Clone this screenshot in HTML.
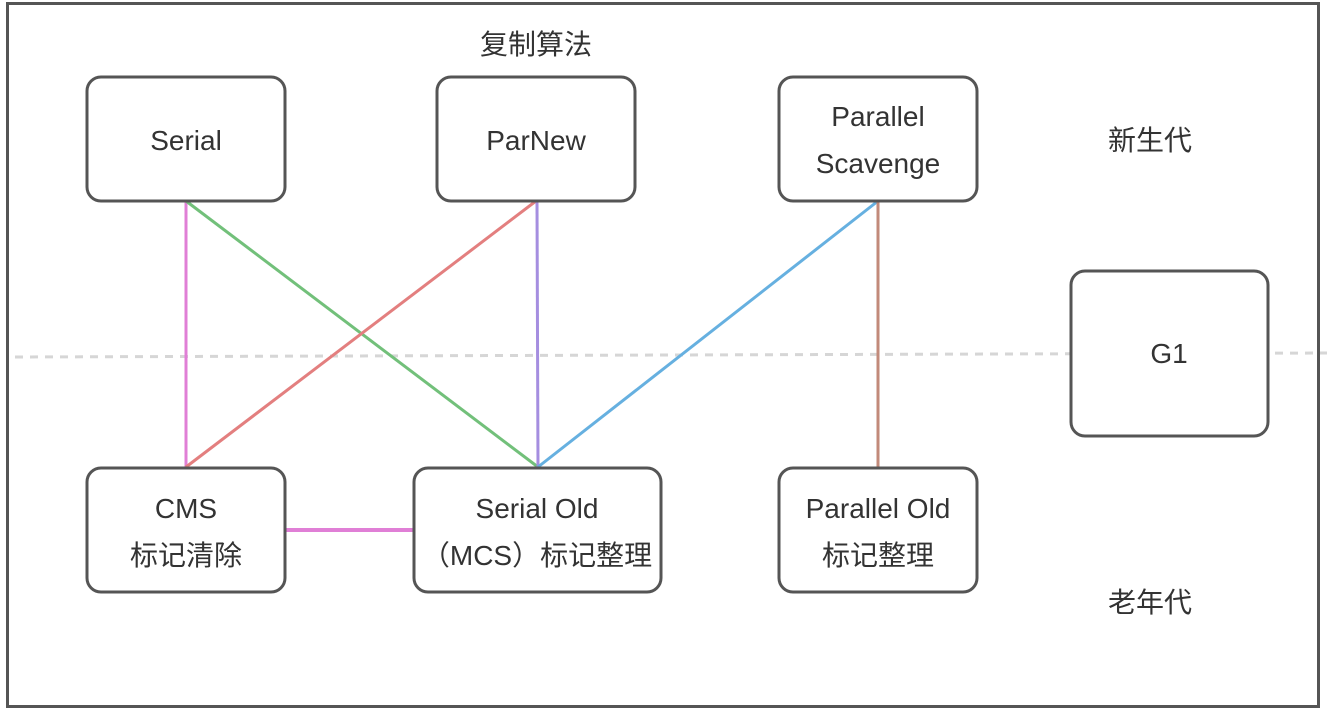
<!DOCTYPE html>
<html><head><meta charset="utf-8"><style>
html,body{margin:0;padding:0;background:#fff;width:1327px;height:710px;overflow:hidden}
svg text{font-family:"Liberation Sans","Noto Sans CJK SC",sans-serif;font-size:28px;fill:#333;text-anchor:middle}
</style></head><body>
<svg width="1327" height="710" xmlns="http://www.w3.org/2000/svg">
<rect x="7.5" y="3.5" width="1311" height="703" fill="none" stroke="#555" stroke-width="3"/>
<line x1="15" y1="357" x2="1327" y2="353" stroke="#d6d6d6" stroke-width="3" stroke-dasharray="8,7"/>
<g stroke-width="3" fill="none">
<line x1="186" y1="201" x2="186" y2="467" stroke="#e07fd6"/>
<line x1="186" y1="201" x2="538" y2="467" stroke="#72c07a"/>
<line x1="536" y1="201" x2="186" y2="467" stroke="#e37f7f"/>
<line x1="537" y1="201" x2="538" y2="467" stroke="#a58ee0"/>
<line x1="878" y1="201" x2="538" y2="467" stroke="#66b0e0"/>
<line x1="878" y1="201" x2="878" y2="467" stroke="#c28a7a"/>
<line x1="285" y1="530" x2="413" y2="530" stroke="#e07fd6" stroke-width="4"/>
</g>
<g fill="#fff" stroke="#555" stroke-width="3">
<rect x="87" y="77" width="198" height="124" rx="14"/>
<rect x="437" y="77" width="198" height="124" rx="14"/>
<rect x="779" y="77" width="198" height="124" rx="14"/>
<rect x="1071" y="271" width="197" height="165" rx="14"/>
<rect x="87" y="468" width="198" height="124" rx="14"/>
<rect x="414" y="468" width="247" height="124" rx="14"/>
<rect x="779" y="468" width="198" height="124" rx="14"/>
</g>
<text x="536" y="54">复制算法</text>
<text x="186" y="150">Serial</text>
<text x="536" y="150">ParNew</text>
<text x="878" y="126">Parallel</text>
<text x="878" y="173">Scavenge</text>
<text x="1150" y="150">新生代</text>
<text x="1169" y="363">G1</text>
<text x="186" y="518">CMS</text>
<text x="186" y="565">标记清除</text>
<text x="537" y="518">Serial Old</text>
<text x="537" y="565">（MCS）标记整理</text>
<text x="878" y="518">Parallel Old</text>
<text x="878" y="565">标记整理</text>
<text x="1150" y="612">老年代</text>
</svg>
</body></html>
